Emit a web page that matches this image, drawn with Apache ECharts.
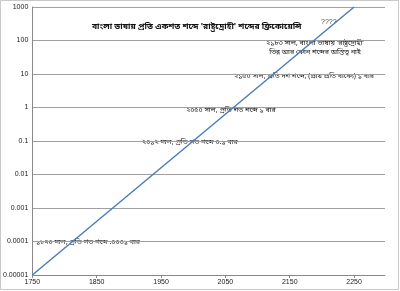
<!DOCTYPE html>
<html>
<head>
<meta charset="utf-8">
<script src="https://cdn.jsdelivr.net/npm/echarts@6/dist/echarts.min.js"></script>
<style>
  html, body { margin: 0; padding: 0; background: #fff; }
  #chart { width: 400px; height: 291px; }
</style>
</head>
<body>
<div id="chart"></div>
<script>
// data
const years = [1750, 2250];
const frequency = [0.00001, 1000];
const yTickLabels = ['0.00001', '0.0001', '0.001', '0.01', '0.1', '1', '10', '100', '1000'];

const title = "বাংলা ভাষায় প্রতি একশত শব্দে 'রাষ্ট্রদ্রোহী' শব্দের ফ্রিকোয়েন্সি";
const notes = [
  { text: '২১৮৩ সাল, বাংলা ভাষায় \'রাষ্ট্রদ্রোহী\'\nভিন্ন আর কোন শব্দের অস্তিত্ব নাই', x: 315, y: 39.5, align: 'center' },
  { text: '২১৫০ সাল, প্রতি দশ শব্দে, (প্রায় প্রতি বাক্যে) ১ বার', x: 234, y: 72, align: 'left' },
  { text: '২০৫০ সাল, প্রতি শত শব্দে ১ বার', x: 186, y: 106.5, align: 'left' },
  { text: '২০১২ সাল, প্রতি শত শব্দে ০.১ বার', x: 142, y: 138.5, align: 'left' },
  { text: '১৮৭০ সাল, প্রতি শত শব্দে .০০০১ বার', x: 36, y: 238.5, align: 'left' }
];

const bnFont = '"Noto Sans Bengali", "Lohit Bengali", "Noto Sans", sans-serif';

const chart = echarts.init(document.getElementById('chart'));

const graphics = [
  {
    type: 'rect',
    shape: { x: 0.5, y: 0.5, width: 398, height: 289 },
    style: { fill: 'none', stroke: '#c8c8c8', lineWidth: 1 },
    silent: true
  },
  {
    type: 'text',
    left: 92,
    top: 23,
    style: { text: title, fontSize: 8.5, fontWeight: 'bold', fontFamily: bnFont, fill: '#111' }
  },
  {
    type: 'text',
    left: 321,
    top: 19,
    style: { text: '????', fontSize: 7, fontFamily: 'Arial, sans-serif', fill: '#444' }
  }
];

notes.forEach((n) => {
  graphics.push({
    type: 'text',
    x: n.x,
    y: n.y,
    style: {
      text: n.text,
      fontSize: 7,
      lineHeight: 9,
      fontFamily: bnFont,
      fill: '#111',
      align: n.align
    }
  });
});

chart.setOption({
  animation: false,
  backgroundColor: '#fff',
  grid: {
    left: 32,
    right: 15,
    top: 7,
    bottom: 16,
    containLabel: false
  },
  xAxis: {
    type: 'value',
    min: 1750,
    max: 2298,
    interval: 100,
    axisLine: { show: true, lineStyle: { color: '#888', width: 1 } },
    axisTick: { show: true, length: 3, lineStyle: { color: '#888' } },
    axisLabel: {
      fontSize: 7,
      color: '#222',
      margin: 4,
      fontFamily: 'Arial, sans-serif',
      showMaxLabel: false,
      formatter: (v) => String(v)
    },
    splitLine: { show: false }
  },
  yAxis: {
    type: 'log',
    logBase: 10,
    min: 0.00001,
    max: 1000,
    axisLine: { show: true, lineStyle: { color: '#888', width: 1 } },
    axisTick: { show: false },
    axisLabel: {
      fontSize: 7,
      color: '#222',
      margin: 4,
      fontFamily: 'Arial, sans-serif',
      formatter: (v) => {
        const i = Math.round(Math.log10(v)) + 5;
        return yTickLabels[i] !== undefined ? yTickLabels[i] : '';
      }
    },
    splitLine: { show: true, lineStyle: { color: '#a0a0a0', width: 1 } }
  },
  series: [
    {
      type: 'line',
      data: years.map((y, i) => [y, frequency[i]]),
      showSymbol: false,
      lineStyle: { color: '#4a7ebb', width: 1.5 },
      z: 3
    }
  ],
  graphic: graphics
});
</script>
</body>
</html>
